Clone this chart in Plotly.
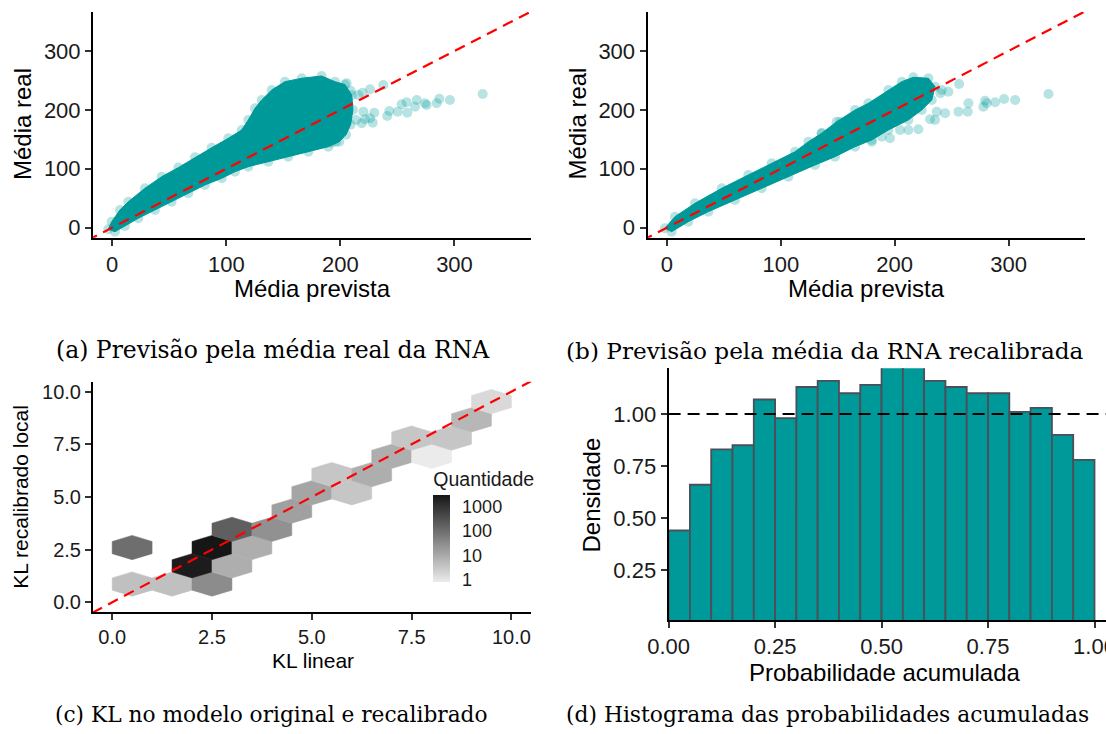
import numpy as np
import plotly.graph_objects as go

# ---------------- Panel (a): envelope of dense cloud + sparse points ----------------
a_cloud_x = [-3.4, -0.4, 6.8, 14.1, 28.7, 43.4, 58.0, 72.6, 87.2, 101.8, 113.5, 119.3, 125.2, 131.0,
             139.8, 151.4, 166.1, 183.6, 195.3, 204.0, 210.0, 211.0, 209.0, 205.0, 199.0, 189.4, 171.9,
             154.3, 136.8, 119.3, 107.6, 96.0, 81.3, 66.7, 52.1, 37.5, 22.9, 11.2, 2.5]
a_cloud_y = [-2.7, 10.2, 30.0, 44.0, 66.9, 86.6, 102.0, 119.5, 135.8, 151.8, 165.9, 182.9, 202.7, 216.8,
             233.8, 247.9, 253.7, 257.6, 247.9, 243.0, 225.0, 200.0, 175.0, 158.0, 146.0, 137.5, 129.0,
             120.5, 112.0, 103.6, 95.0, 83.8, 72.5, 58.4, 44.1, 30.0, 16.0, 2.9, -6.8]
a_out_x = [237.6, 324.7, 296.0, 286.7, 284.4, 275.6, 274.1, 266.9, 265.4, 258.1, 253.7, 258.6, 250.2,
           242.9, 241.1, 229.7, 226.0, 228.3, 221.6, 220.1, 218.7, 213.7, 219.5, 226.0, 215.7, 196.1,
           192.4, 209.0, 205.5]
a_out_y = [242.3, 227.0, 216.8, 219.0, 211.2, 208.3, 211.2, 216.8, 205.4, 212.9, 209.5, 195.2, 197.0,
           198.1, 189.6, 195.2, 185.7, 178.3, 184.0, 197.0, 177.2, 182.9, 229.2, 235.0, 225.3, 146.0,
           144.3, 232.6, 245.2]

# ---------------- Panel (b) ----------------
b_cloud_x = [-1.8, 7.0, 24.6, 48.1, 71.4, 92.0, 112.5, 124.2, 135.9, 149.1, 165.2, 176.9, 194.5, 206.2,
             216.4, 229.6, 235.5, 232.6, 223.8, 212.0, 194.5, 179.9, 165.2, 147.6, 130.1, 106.6, 83.2,
             59.8, 36.3, 18.7, 4.1]
b_cloud_y = [-1.0, 18.7, 41.4, 66.9, 89.5, 109.3, 129.0, 146.0, 160.3, 180.0, 199.8, 211.2, 233.8, 247.9,
             255.3, 253.7, 239.4, 216.8, 199.8, 182.9, 165.9, 148.9, 137.5, 120.5, 106.5, 86.6, 66.9,
             47.0, 27.2, 10.2, -6.8]
b_out_x = [256.6, 335.1, 305.8, 296.1, 288.2, 279.4, 277.9, 280.9, 264.8, 264.2, 256.0, 244.3, 237.0,
           235.5, 231.1, 241.4, 247.2, 240.1, 220.8, 212.0, 204.7, 195.9, 188.7, 179.9, 152.0, 135.9]
b_out_y = [244.0, 227.0, 216.8, 218.5, 212.9, 215.6, 205.4, 211.2, 211.2, 197.0, 197.0, 194.2, 197.0,
           182.9, 184.0, 233.8, 230.9, 228.2, 167.0, 165.9, 165.9, 151.8, 154.5, 146.0, 180.0, 160.3]

# ---------------- Panel (c): hexbin centres and counts ----------------
hex_x = [0.5, 1.5, 2.5, 2.0, 3.0, 0.5, 2.5, 3.5, 3.0, 4.0, 4.5, 5.0, 6.0, 5.5, 6.5, 7.0, 8.0, 7.5, 8.5, 9.0, 9.5]
hex_y = [0.866, 0.866, 0.866, 1.732, 1.732, 2.598, 2.598, 2.598, 3.464, 3.464, 4.330, 5.196, 5.196,
         6.062, 6.062, 6.928, 6.928, 7.794, 7.794, 8.660, 9.526]
hex_count = [5, 5, 36, 2400, 10, 110, 3000, 10, 195, 30, 17, 14, 4, 4, 10, 10, 1, 4, 4, 7, 2]
legend_ticks = [1, 10, 100, 1000]

# ---------------- Panel (d): histogram ----------------
bin_left = [0.00, 0.05, 0.10, 0.15, 0.20, 0.25, 0.30, 0.35, 0.40, 0.45,
            0.50, 0.55, 0.60, 0.65, 0.70, 0.75, 0.80, 0.85, 0.90, 0.95]
bin_width = 0.05
density = [0.44, 0.66, 0.83, 0.85, 1.07, 0.98, 1.13, 1.16, 1.10, 1.14,
           1.25, 1.25, 1.16, 1.13, 1.10, 1.10, 1.01, 1.03, 0.90, 0.78]

TEAL = "#009999"
SANS = "Liberation Sans"
SERIF = "DejaVu Serif"
W, H = 1106, 734

fig = go.Figure()


def add_scatter_panel(cx, cy, ox, oy, xa, ya):
    fig.add_trace(go.Scatter(x=cx + [cx[0]], y=cy + [cy[0]], mode="lines", fill="toself",
                             fillcolor=TEAL, line=dict(color=TEAL, width=1),
                             xaxis=xa, yaxis=ya, hoverinfo="skip"))
    fig.add_trace(go.Scatter(x=cx + ox, y=cy + oy, mode="markers",
                             marker=dict(color=TEAL, size=10, opacity=0.28, line=dict(width=0)),
                             xaxis=xa, yaxis=ya, hoverinfo="skip"))
    fig.add_trace(go.Scatter(x=[-50, 500], y=[-50, 500], mode="lines",
                             line=dict(color="red", width=2.2, dash="11px,7px"),
                             xaxis=xa, yaxis=ya, hoverinfo="skip"))


add_scatter_panel(a_cloud_x, a_cloud_y, a_out_x, a_out_y, "x", "y")
add_scatter_panel(b_cloud_x, b_cloud_y, b_out_x, b_out_y, "x2", "y2")

# hexagons
CMAX = 3.48
G_LOW, G_HIGH = 235, 22


def gray(logv):
    t = min(max(logv / CMAX, 0), 1)
    g = int(round(G_LOW + (G_HIGH - G_LOW) * t))
    return f"rgb({g},{g},{g})"


hx = np.array([0.0, 0.5, 0.5, 0.0, -0.5, -0.5])
hy = np.array([1.0, 0.5, -0.5, -1.0, -0.5, 0.5]) / np.sqrt(3)
for cx_, cy_, n in zip(hex_x, hex_y, hex_count):
    xs = list(cx_ + hx) + [cx_ + hx[0]]
    ys = list(cy_ + hy) + [cy_ + hy[0]]
    c = gray(np.log10(n))
    fig.add_trace(go.Scatter(x=xs, y=ys, mode="lines", fill="toself", fillcolor=c,
                             line=dict(color=c, width=0.5), xaxis="x3", yaxis="y3", hoverinfo="skip"))

fig.add_trace(go.Scatter(x=[-0.5, 12], y=[-0.5, 12], mode="lines",
                         line=dict(color="red", width=2.2, dash="11px,7px"),
                         xaxis="x3", yaxis="y3", hoverinfo="skip"))

# colour bar carrier
fig.add_trace(go.Scatter(
    x=[hex_x[3]], y=[hex_y[3]], mode="markers", xaxis="x3", yaxis="y3", hoverinfo="skip",
    marker=dict(size=0.1, color=[np.log10(hex_count[3])], cmin=-0.1, cmax=CMAX,
                colorscale=[[0, gray(0)], [1, gray(CMAX)]], showscale=True,
                colorbar=dict(x=433.3 / W, xanchor="left", xpad=0, ypad=0,
                              y=1 - 582 / H, yanchor="bottom", len=114, lenmode="pixels",
                              thickness=17, thicknessmode="pixels", outlinewidth=0,
                              tickvals=list(np.log10(legend_ticks)),
                              ticktext=[str(v) for v in legend_ticks],
                              ticks="outside", ticklen=9, tickcolor="rgba(0,0,0,0)",
                              tickfont=dict(family=SANS, size=18, color="#1a1a1a"),
                              title=dict(text="Quantidade", side="top",
                                         font=dict(family=SANS, size=19.5, color="#1a1a1a"))))))

# histogram
fig.add_trace(go.Bar(x=[b + bin_width / 2 for b in bin_left], y=density, width=bin_width,
                     marker=dict(color=TEAL, line=dict(color="#4a5059", width=1.8)),
                     xaxis="x4", yaxis="y4", hoverinfo="skip"))
fig.add_trace(go.Scatter(x=[0, 1.2], y=[1, 1], mode="lines",
                         line=dict(color="black", width=2, dash="12px,7px"),
                         xaxis="x4", yaxis="y4", hoverinfo="skip"))


def ax(domain, rng, tickvals, fmt, size, anchor):
    return dict(domain=domain, range=rng, tickvals=tickvals, tickformat=fmt, anchor=anchor,
                showline=True, linecolor="black", linewidth=2, ticks="outside", ticklen=6,
                tickwidth=1.5, tickcolor="#333333", showgrid=False, zeroline=False,
                automargin=False, ticklabeloverflow="allow",
                tickfont=dict(family=SANS, size=size, color="#1a1a1a"))


def px_x(a, b):
    return [a / W, b / W]


def px_y(top, bottom):
    return [1 - bottom / H, 1 - top / H]


fig.update_layout(
    width=W, height=H, margin=dict(l=0, r=0, t=0, b=0),
    paper_bgcolor="white", plot_bgcolor="white", showlegend=False,
    xaxis=ax(px_x(93, 531.4), [-16.8, 367.4], [0, 100, 200, 300], "d", 22, "y"),
    yaxis=ax(px_y(11.7, 237.7), [-17, 366.7], [0, 100, 200, 300], "d", 22, "x"),
    xaxis2=ax(px_x(647.5, 1084.8), [-17.1, 367], [0, 100, 200, 300], "d", 22, "y2"),
    yaxis2=ax(px_y(11.7, 237.7), [-17, 366.7], [0, 100, 200, 300], "d", 22, "x2"),
    xaxis3=ax(px_x(93, 531.4), [-0.48, 10.5], [0, 2.5, 5, 7.5, 10], ".1f", 20, "y3"),
    yaxis3=ax(px_y(381.7, 612.3), [-0.475, 10.47], [0, 2.5, 5, 7.5, 10], ".1f", 20, "x3"),
    xaxis4=ax(px_x(668.6, 1106), [0, 1.027], [0, 0.25, 0.5, 0.75, 1.0], ".2f", 22, "y4"),
    yaxis4=ax(px_y(368.3, 620), [0.0096, 1.22], [0.25, 0.5, 0.75, 1.0], ".2f", 22, "x4"),
)


def label(text, x, y, size, angle=0, family=SANS):
    fig.add_annotation(text=text, x=x / W, y=1 - y / H, xref="paper", yref="paper",
                       showarrow=False, textangle=angle, xanchor="center", yanchor="middle",
                       font=dict(family=family, size=size, color="black"))


label("Média real", 22, 124, 24, -90)
label("Média prevista", 312, 288, 24)
label("Média real", 576.6, 124, 24, -90)
label("Média prevista", 866.8, 288, 24)
label("KL recalibrado local", 21, 496.7, 21, -90)
label("KL linear", 312.7, 660, 21)
label("Densidade", 590.5, 495, 24, -90)
label("Probabilidade acumulada", 885, 672, 24)

label("(a) Previsão pela média real da RNA", 272.5, 350, 23.5, family=SERIF)
label("(b) Previsão pela média da RNA recalibrada", 825, 350, 23.2, family=SERIF)
label("(c) KL no modelo original e recalibrado", 271, 714, 21.7, family=SERIF)
label("(d) Histograma das probabilidades acumuladas", 827, 714, 21.8, family=SERIF)

fig.write_html("out.html")
